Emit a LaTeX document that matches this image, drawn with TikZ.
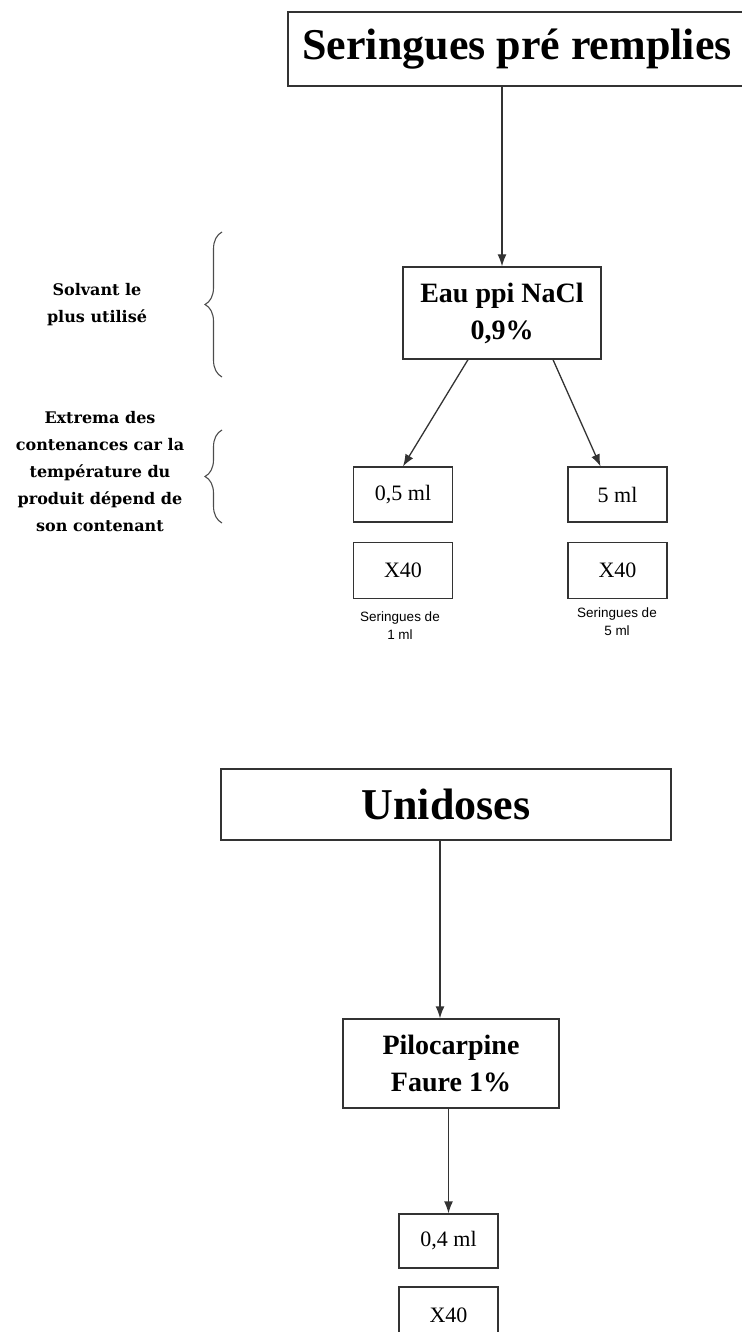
\documentclass[tikz,border=0pt]{standalone}
\usepackage{fontspec}
\setmainfont{Liberation Serif}
\setsansfont{Liberation Sans}
\newfontfamily\notefont{DejaVu Serif}
\usetikzlibrary{arrows.meta,decorations.pathreplacing,positioning}

\begin{document}
\begin{tikzpicture}[x=1pt, y=-1pt,
    boite/.style={draw=black!80, line width=1.3pt, inner sep=0pt, align=center},
    titre/.style={boite, font=\bfseries\fontsize{44}{50}\selectfont},
    grand/.style={boite, font=\bfseries\fontsize{28}{37}\selectfont},
    petit/.style={boite, minimum width=99pt, minimum height=55pt, font=\fontsize{22}{26}\selectfont},
    legende/.style={align=center, font=\sffamily\fontsize{13.5}{18}\selectfont},
    note/.style={align=center, font=\notefont\bfseries\fontsize{16}{27}\selectfont},
    fleche/.style={draw=black!80, line width=1.3pt, -{Latex[length=12pt,width=9pt]}},
    accolade/.style={draw=black!70, line width=1.1pt, decorate, decoration={brace, amplitude=17pt}}]

    \useasboundingbox (0,0) rectangle (741,1332);

    % Seringues pré remplies
    \node[titre, minimum width=458pt, minimum height=74pt] (ser) at (517,49) {Seringues pré remplies};
    \node[grand, minimum width=198pt, minimum height=92pt] (eau) at (502,313) {Eau ppi NaCl\\0,9\%};
    \draw[fleche] (eau.north |- ser.south) -- (eau.north);

    % contenances extremes
    \node[petit] (vol1) at (403,494.5) {0,5 ml};
    \node[petit] (vol5) at (617.5,494.5) {5 ml};
    \foreach \v in {1,5}
        \node[petit, minimum height=56pt, below=19pt of vol\v] (nb\v) {X40};
    \draw[fleche] ([xshift=-34pt]eau.south) -- (vol1.north);
    \draw[fleche] ([xshift=51pt]eau.south) -- ([xshift=-17pt]vol5.north);

    \node[legende] (leg1) at (400,626) {Seringues de\\1 ml};
    \node[legende] (leg5) at (617,622) {Seringues de\\5 ml};

    % remarques a gauche
    \node[note] (solv) at (97,305) {Solvant le\\plus utilisé};
    \node[note] (extr) at (100,472) {Extrema des\\contenances car la\\température du\\produit dépend de\\son contenant};
    \coordinate (acc1h) at (222,232);
    \coordinate (acc1b) at (222,377);
    \coordinate (acc2h) at (222,430);
    \coordinate (acc2b) at (222,523);
    \draw[accolade] (acc1b) -- (acc1h);
    \draw[accolade] (acc2b) -- (acc2h);

    % Unidoses
    \node[titre, minimum width=450pt, minimum height=71pt] (uni) at (446,804.5) {Unidoses};
    \node[grand, minimum width=216pt, minimum height=89pt] (pilo) at (451,1063.5) {Pilocarpine\\Faure 1\%};
    \node[petit, minimum height=54pt] (vol4) at (448.5,1241) {0,4 ml};
    \node[petit, minimum height=56pt] (nb4) at (448.5,1315) {X40};
    \draw[fleche] ([xshift=-6pt]uni.south) -- ([xshift=-6pt]uni.south |- pilo.north);
    \draw[fleche] (pilo.south -| vol4.north) -- (vol4.north);
\end{tikzpicture}
\end{document}
